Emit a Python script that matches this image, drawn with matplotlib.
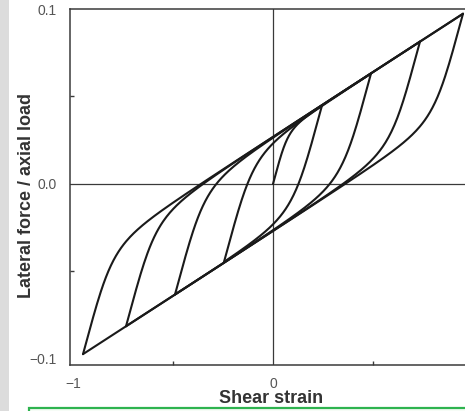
import numpy as np
import matplotlib.pyplot as plt
from matplotlib.patches import Rectangle

plt.rcParams['font.family'] = ['Liberation Sans', 'DejaVu Sans']

# --- values ---
# strain at each load reversal (starts at the origin, amplitude grows)
reversal_strain = [0.245, -0.245, 0.49, -0.49, 0.735, -0.735, 0.95, -0.95, 0.95]
env_intercept = 0.027    # upper / lower bound lines cross x=0 at +-this
env_slope = 0.074        # slope of the two bound lines
init_slope = 0.42        # steep slope just after a reversal
knee_sharpness = 3.0

x_ticks = [-1, 0]
x_ticklabels = ['\u22121', '0']
y_ticks = [-0.1, 0.0, 0.1]
y_ticklabels = ['\u22120.1', '0.0', '0.1']


def upper(x):
    return env_intercept + env_slope * x


def lower(x):
    return -env_intercept + env_slope * x


def branch(x0, y0, x1, n=300):
    # smooth transition from the reversal point towards the opposite bound line
    s = np.sign(x1 - x0)
    u = np.linspace(0, abs(x1 - x0), n)
    gap = (upper(x0) - y0) if s > 0 else (y0 - lower(x0))
    uy = gap / (init_slope - env_slope)
    r = u / uy
    g = r / (1 + r ** knee_sharpness) ** (1 / knee_sharpness)
    return x0 + s * u, y0 + s * (env_slope * u + gap * g)


fig = plt.figure(figsize=(4.65, 4.11), dpi=100)
W, H = 465, 411

# grey strip on the left and green box at the bottom (page furniture)
fig.patches.append(Rectangle((0, 0), 9 / W, 1, transform=fig.transFigure,
                             facecolor='#dcdcdc', edgecolor='none', zorder=0))
fig.patches.append(Rectangle((29 / W, -0.05), 1, 0.05 + 3 / H, transform=fig.transFigure,
                             facecolor='#f6fcf6', edgecolor='#2eb34f', lw=1.6, zorder=0))

ax = fig.add_axes([70 / W, (H - 365) / H, 395 / W, (365 - 9) / H])
ax.set_xlim(-1.015, 0.96)
ax.set_ylim(-0.1035, 0.1)

# zero lines
ax.axhline(0, color='#3a3a3a', lw=0.9, zorder=1)
ax.axvline(0, color='#3a3a3a', lw=0.9, zorder=1)

# load path
x_prev, y_prev = 0.0, 0.0
for xr in reversal_strain:
    xs, ys = branch(x_prev, y_prev, xr)
    ax.plot(xs, ys, color='#1a1a1a', lw=1.5, solid_capstyle='round', zorder=3)
    x_prev, y_prev = xs[-1], ys[-1]

for side in ['left', 'top', 'bottom']:
    ax.spines[side].set_color('#3a3a3a')
    ax.spines[side].set_linewidth(1.1)
ax.spines['right'].set_visible(False)

ax.set_xticks(x_ticks)
ax.set_xticklabels(x_ticklabels)
ax.set_yticks(y_ticks)
ax.set_yticklabels(y_ticklabels)
ax.set_xticks([-0.5, 0.5], minor=True)
ax.set_yticks([-0.05, 0.05], minor=True)
ax.tick_params(which='major', length=0, labelsize=10, labelcolor='#555555')
ax.tick_params(axis='x', which='major', pad=8.5)
ax.tick_params(axis='y', which='major', pad=9.5)
ax.tick_params(which='minor', direction='in', length=3, width=1, color='#3a3a3a')

fig.text(271 / W, 1 - 398 / H, 'Shear strain', ha='center', va='center',
         fontsize=13, fontweight='bold', color='#333333')
fig.text(27 / W, 1 - 195 / H, 'Lateral force / axial load', ha='center', va='center',
         rotation=90, fontsize=13, fontweight='bold', color='#333333')

fig.savefig('out.png', dpi=100)
